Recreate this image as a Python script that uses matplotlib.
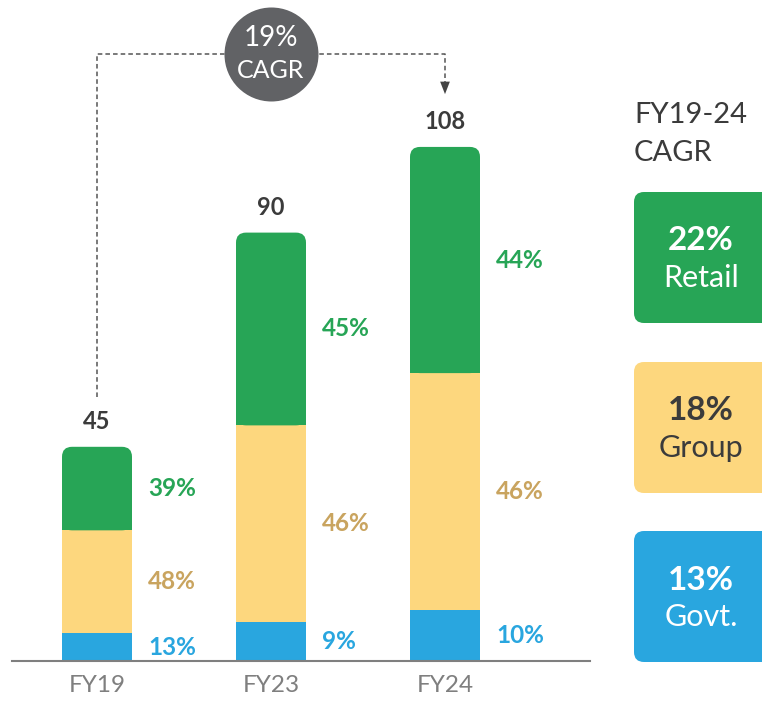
import matplotlib
matplotlib.use("Agg")
import matplotlib.pyplot as plt
from matplotlib.patches import FancyBboxPatch

plt.rcParams['font.family'] = ['Lato', 'DejaVu Sans']

# data
years = ["FY19", "FY23", "FY24"]
totals = [45, 90, 108]
govt_share = [13, 9, 10]
group_share = [48, 46, 46]
retail_share = [39, 45, 44]

cagr_total = "19%"
cagr_labels = ["Retail", "Group", "Govt."]
cagr_values = ["22%", "18%", "13%"]

GREEN = "#27A556"
YELLOW = "#FDD77E"
BLUE = "#29A6DF"
TAN = "#C9A45F"
DARK = "#3B3B3B"
GREY = "#7F7F7F"

W, H = 762, 701
fig = plt.figure(figsize=(W / 100, H / 100), dpi=100)

# bar axes, pixel geometry of the reference
px_x = 174.0       # pixels per category step
px_y = 4.76        # pixels per unit
x0_px = 97         # centre of first bar
base_px = 40       # baseline from bottom
left_px, right_px = 12, 590
ax = fig.add_axes([left_px / W, base_px / H, (right_px - left_px) / W, (H - base_px) / H])
ax.set_xlim((left_px - x0_px) / px_x, (right_px - x0_px) / px_x)
ax.set_ylim(0, (H - base_px) / px_y)

bw = 70 / px_x
xs = list(range(len(years)))
govt = [t * s / 100 for t, s in zip(totals, govt_share)]
group = [t * s / 100 for t, s in zip(totals, group_share)]
retail = [t - a - b for t, a, b in zip(totals, govt, group)]

ax.bar(xs, govt, bw, color=BLUE, linewidth=0)
ax.bar(xs, group, bw, bottom=govt, color=YELLOW, linewidth=0)

# retail segment with rounded top corners
r_x = 10 / px_x
r_y = 10 / px_y
for x, g, gr, rt in zip(xs, govt, group, retail):
    b = g + gr
    ax.bar(x, rt - r_y * 1.5, bw, bottom=b, color=GREEN, linewidth=0)
    ax.add_patch(FancyBboxPatch((x - bw / 2, b), bw, rt,
                                boxstyle=f"round,pad=0,rounding_size={r_x}",
                                mutation_aspect=r_y / r_x,
                                facecolor=GREEN, edgecolor="none"))

# segment labels
tx = bw / 2 + 16 / px_x
for x, g, gr, rt, sg, sgr, srt in zip(xs, govt, group, retail, govt_share, group_share, retail_share):
    ax.text(x + tx, g / 2, f"{sg}%", color=BLUE, fontsize=17.5, fontweight="bold", va="center", ha="left")
    ax.text(x + tx, g + gr / 2, f"{sgr}%", color=TAN, fontsize=17.5, fontweight="bold", va="center", ha="left")
    ax.text(x + tx, g + gr + rt / 2, f"{srt}%", color=GREEN, fontsize=17.5, fontweight="bold", va="center", ha="left")

# totals
for x, t in zip(xs, totals):
    ax.text(x, t + 25 / px_y, str(t), color=DARK, fontsize=17, fontweight="bold", ha="center", va="center")

# CAGR connector
top_y = max(totals) + 19.5
ax.plot([xs[0], xs[0], xs[-1], xs[-1]],
        [totals[0] + 50 / px_y, top_y, top_y, max(totals) + 56 / px_y],
        color="#555555", linestyle=(0, (3, 2)), linewidth=1.1)
ax.annotate("", xy=(xs[-1], max(totals) + 50 / px_y), xytext=(xs[-1], max(totals) + 66 / px_y),
            arrowprops=dict(arrowstyle="-|>,head_length=0.9,head_width=0.35", color="#444444", lw=0))
mid = (xs[0] + xs[-1]) / 2
ax.scatter([mid], [top_y], s=(94 * 0.72) ** 2, color="#616265", zorder=5, linewidths=0)
ax.text(mid, top_y + 16 / px_y, cagr_total, color="white", fontsize=20, ha="center", va="center", zorder=6)
ax.text(mid, top_y - 16 / px_y, "CAGR", color="white", fontsize=18, ha="center", va="center", zorder=6)

# axis styling
for s in ["top", "right", "left"]:
    ax.spines[s].set_visible(False)
ax.spines["bottom"].set_color(GREY)
ax.spines["bottom"].set_linewidth(1.5)
ax.set_yticks([])
ax.set_xticks(xs)
ax.set_xticklabels(years, color=GREY, fontsize=17.5)
ax.tick_params(axis="x", length=0, pad=10)

# right-hand panel in pixel coordinates
ov = fig.add_axes([0, 0, 1, 1])
ov.set_xlim(0, W)
ov.set_ylim(H, 0)
ov.axis("off")
ov.text(634, 115, "FY19-24", fontsize=21, color=DARK, ha="left", va="center")
ov.text(634, 153, "CAGR", fontsize=21, color=DARK, ha="left", va="center")

box_tops = [192, 362, 531]
box_colors = [GREEN, YELLOW, BLUE]
text_colors = ["white", DARK, "white"]
for top, c, tc, lab, val in zip(box_tops, box_colors, text_colors, cagr_labels, cagr_values):
    ov.add_patch(FancyBboxPatch((634, top), 140, 131,
                                boxstyle="round,pad=0,rounding_size=10",
                                facecolor=c, edgecolor="none"))
    ov.text(701, top + 49, val, fontsize=24, fontweight="bold", color=tc, ha="center", va="center")
    ov.text(701, top + 86, lab, fontsize=22, color=tc, ha="center", va="center")

fig.savefig("out.png", dpi=100)
